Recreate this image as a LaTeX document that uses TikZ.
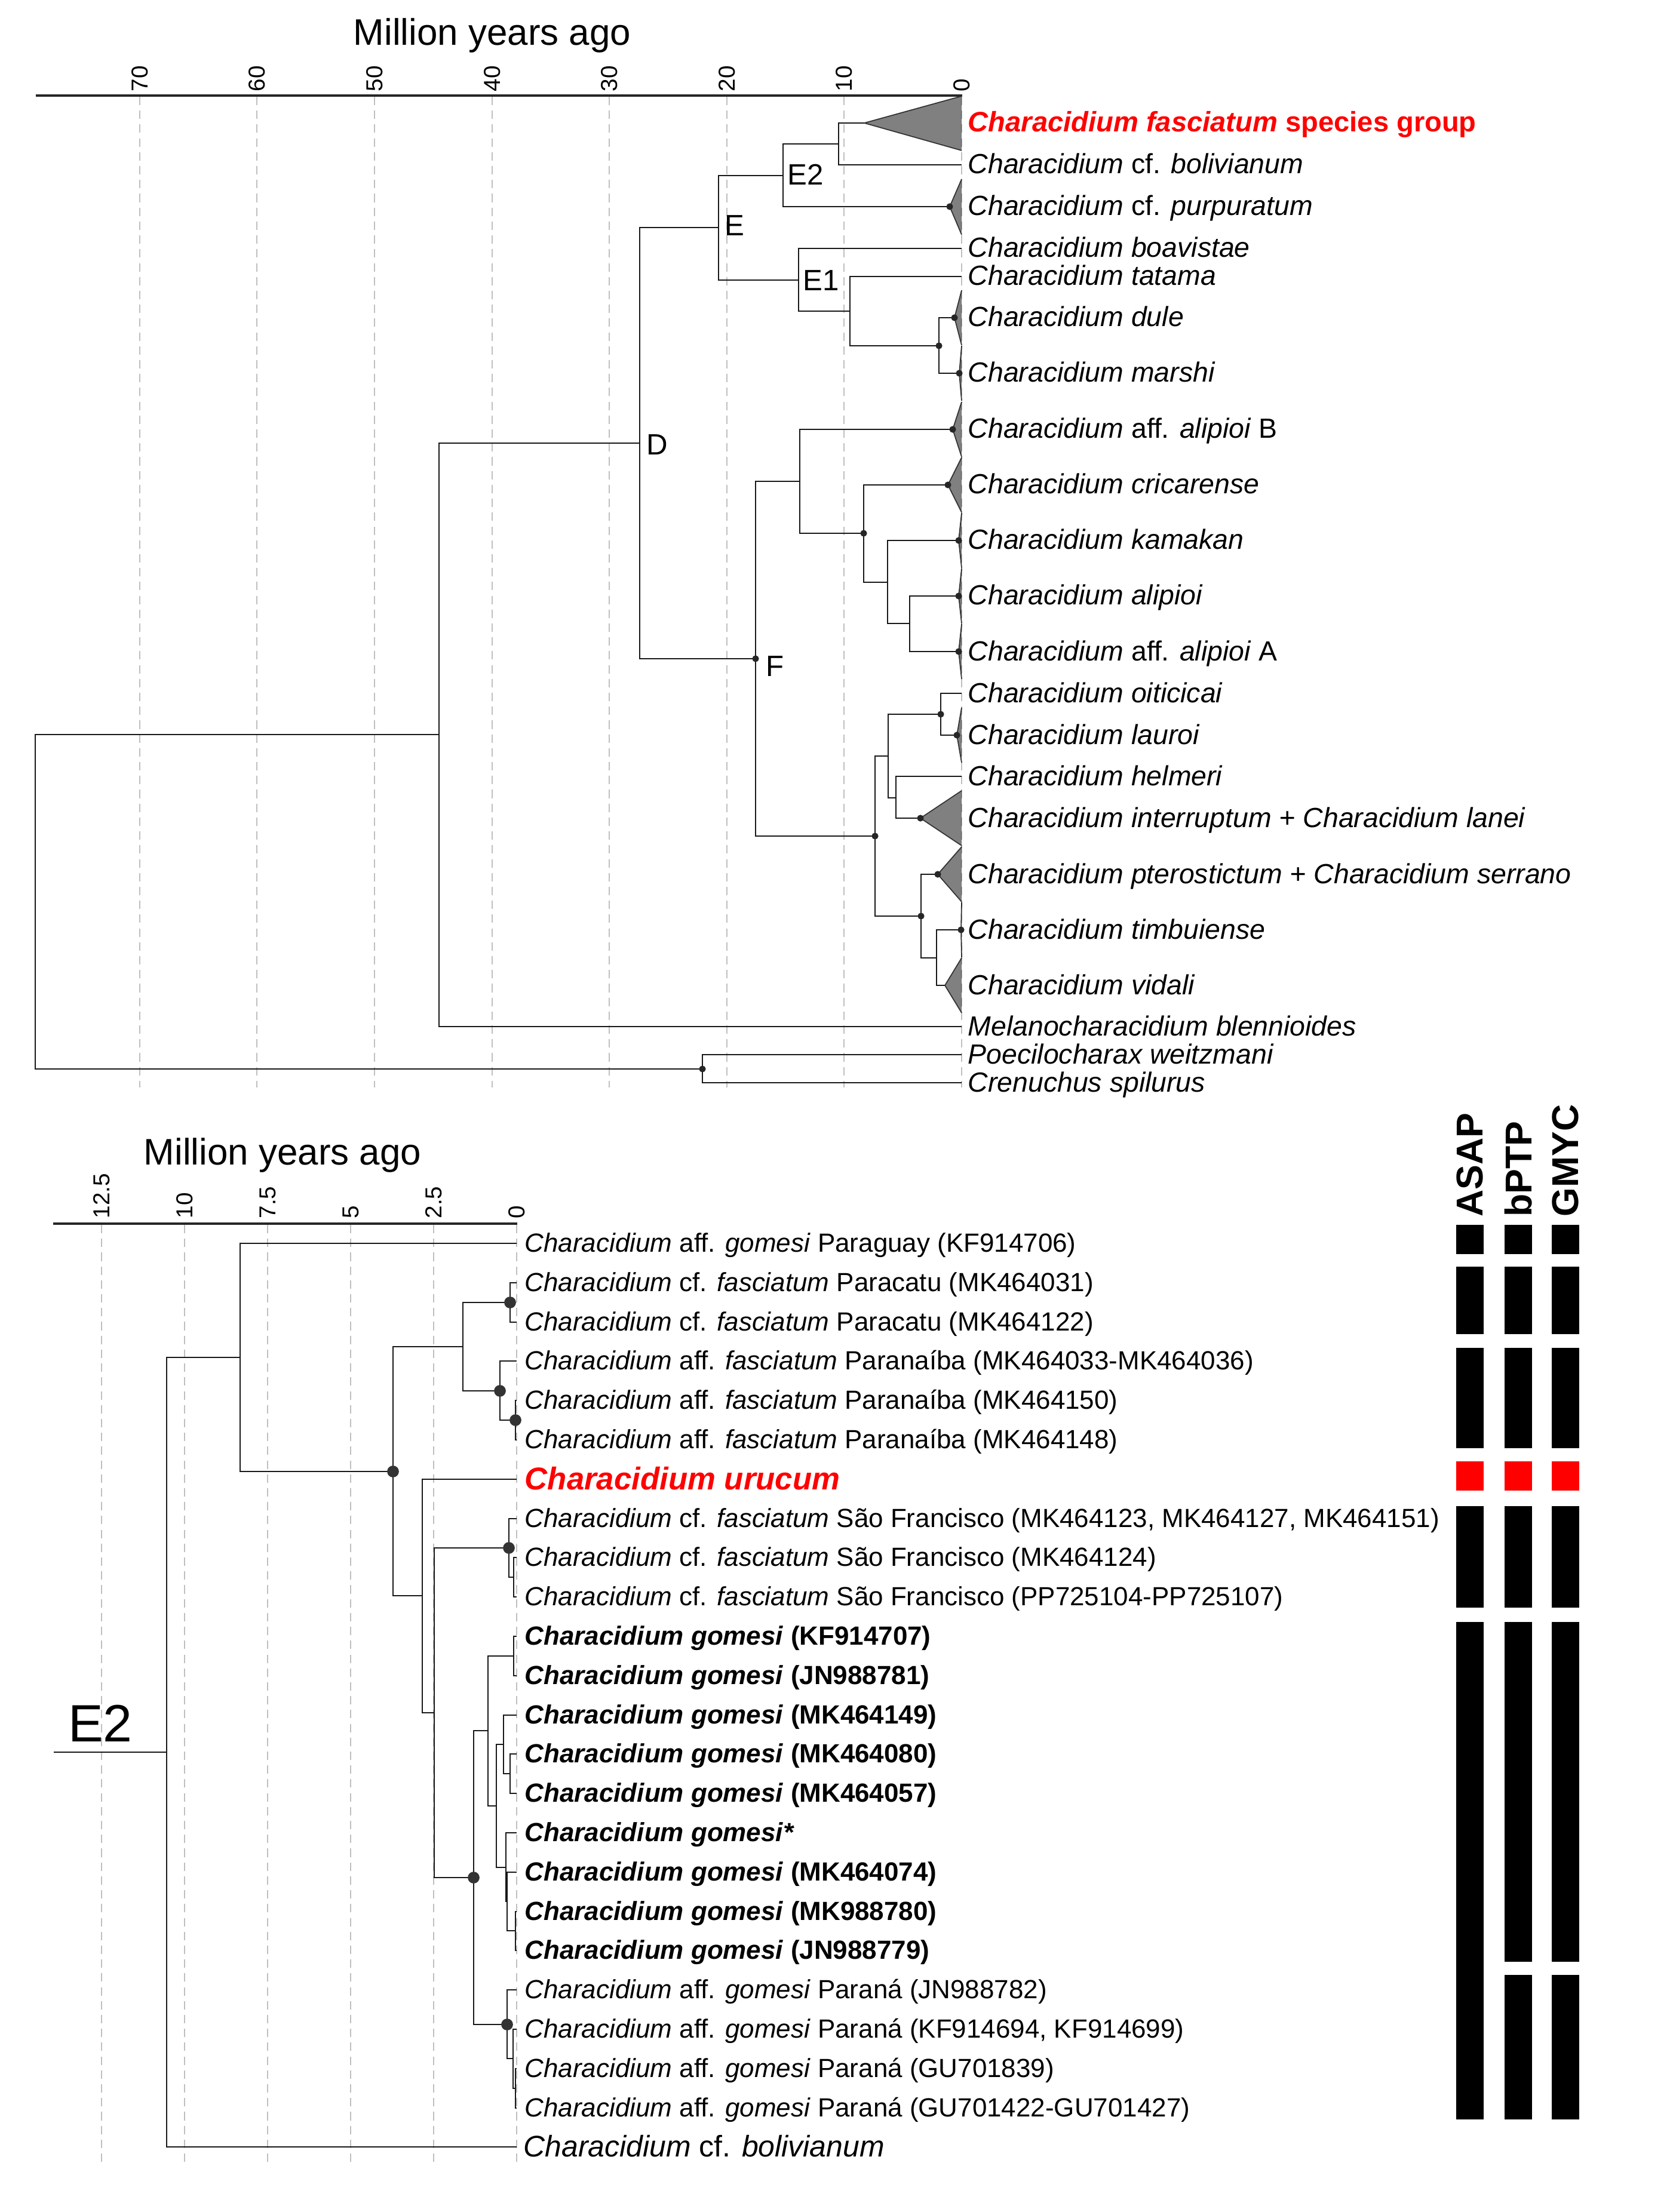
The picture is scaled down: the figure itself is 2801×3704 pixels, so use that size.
\documentclass[tikz,border=0pt]{standalone}
\usepackage{fontspec}
\setmainfont{Liberation Sans}
\usetikzlibrary{calc}
\tikzset{%
  dot/.style={circle,inner sep=0pt,minimum size=3.2pt,fill=black!85},
  bigdot/.style={circle,inner sep=0pt,minimum size=5.6pt,fill=black!80},
  branch/.style={black!90,line width=0.6pt},
  bbranch/.style={black!90,line width=0.75pt},
  ageline/.style={black,opacity=0.25,line width=0.6pt,dash pattern=on 4pt off 2.6pt},
  axisline/.style={black!85,line width=0.9pt},
  clade/.style={fill=tri,draw=black!80,line width=0.5pt},
  tip/.style={anchor=base west,inner sep=0pt,font=\fontsize{13.2}{15}\selectfont},
  btip/.style={anchor=base west,inner sep=0pt,font=\fontsize{12.5}{15}\selectfont},
  cladename/.style={inner sep=0pt,font=\fontsize{14}{16}\selectfont},
  axistitle/.style={anchor=base,inner sep=0pt,font=\fontsize{17.6}{20}\selectfont},
  ticklabel/.style={rotate=90,anchor=west,inner sep=0pt,font=\fontsize{11}{13}\selectfont},
  method/.style={rotate=90,anchor=west,inner sep=0pt,font=\fontsize{17.8}{20}\selectfont\bfseries}
}
\definecolor{tri}{gray}{0.5}
\definecolor{hl}{rgb}{1,0,0}

\begin{document}
\begin{tikzpicture}[x=0.01cm,y=-0.01cm]
  \useasboundingbox (0,0) rectangle (2801,3704);
  \fill[white] (0,0) rectangle (2801,3704);
  %%% upper tree: axis
  \node[axistitle] (ttl1) at (824,76) {Million years ago};
  \draw[axisline] (60,160) -- (1611,160);
  \node[ticklabel] (k70) at (234,154) {70};
  \node[ticklabel] (k60) at (430,154) {60};
  \node[ticklabel] (k50) at (627,154) {50};
  \node[ticklabel] (k40) at (824,154) {40};
  \node[ticklabel] (k30) at (1020,154) {30};
  \node[ticklabel] (k20) at (1217,154) {20};
  \node[ticklabel] (k10) at (1413,154) {10};
  \node[ticklabel] (k0) at (1610,154) {0};
  % tips
  \coordinate (t2) at (1610,276);
  \coordinate (t4) at (1610,416);
  \coordinate (t5) at (1610,463);
  \coordinate (t13) at (1610,1161);
  \coordinate (t15) at (1610,1300);
  \coordinate (t20) at (1610,1719);
  \coordinate (t21) at (1610,1766);
  \coordinate (t22) at (1610,1813);
  % collapsed clades
  \coordinate (c1) at (1447,206);
  \coordinate (c3) at (1590,346);
  \coordinate (c6) at (1598,532);
  \coordinate (c7) at (1606,625);
  \coordinate (c8) at (1595,719);
  \coordinate (c9) at (1587,812);
  \coordinate (c10) at (1605,905);
  \coordinate (c11) at (1605,998);
  \coordinate (c12) at (1605,1091);
  \coordinate (c14) at (1602,1231);
  \coordinate (c16) at (1541,1370);
  \coordinate (c17) at (1570,1464);
  \coordinate (c18) at (1609,1557);
  \coordinate (c19) at (1582,1650);
  \filldraw[clade] (1610,161) -- (c1) -- (1610,252);
  \filldraw[clade] (1610,300) -- (c3) -- (1610,393);
  \filldraw[clade] (1610,486) -- (c6) -- (1610,578);
  \filldraw[clade] (1610,579) -- (c7) -- (1610,671);
  \filldraw[clade] (1610,673) -- (c8) -- (1610,765);
  \filldraw[clade] (1610,766) -- (c9) -- (1610,858);
  \filldraw[clade] (1610,859) -- (c10) -- (1610,951);
  \filldraw[clade] (1610,952) -- (c11) -- (1610,1044);
  \filldraw[clade] (1610,1045) -- (c12) -- (1610,1137);
  \filldraw[clade] (1610,1185) -- (c14) -- (1610,1277);
  \filldraw[clade] (1610,1324) -- (c16) -- (1610,1416);
  \filldraw[clade] (1610,1418) -- (c17) -- (1610,1510);
  \filldraw[clade] (1610,1511) -- (c18) -- (1610,1603);
  \filldraw[clade] (1610,1604) -- (c19) -- (1610,1696);
  \draw[ageline] (234,162) -- (234,1821);
  \draw[ageline] (430,162) -- (430,1821);
  \draw[ageline] (627,162) -- (627,1821);
  \draw[ageline] (824,162) -- (824,1821);
  \draw[ageline] (1020,162) -- (1020,1821);
  \draw[ageline] (1217,162) -- (1217,1821);
  \draw[ageline] (1413,162) -- (1413,1821);
  \draw[ageline] (1610,162) -- (1610,1821);
  % internal nodes
  \coordinate (r0) at (59,1510);
  \coordinate (nIn) at (735,1230);
  \coordinate (nOut) at (1176,1790);
  \coordinate (nD) at (1071,742);
  \coordinate (nE) at (1203,381);
  \coordinate (nE2) at (1311,294);
  \coordinate (n10) at (1404,241);
  \coordinate (nE1) at (1337,469);
  \coordinate (n11) at (1423,521);
  \coordinate (n12) at (1572,579);
  \coordinate (nF) at (1265,1103);
  \coordinate (nF1) at (1339,806);
  \coordinate (n20) at (1446,893);
  \coordinate (n21) at (1486,975);
  \coordinate (n22) at (1523,1044);
  \coordinate (nF2) at (1465,1400);
  \coordinate (n30) at (1487,1266);
  \coordinate (n31) at (1575,1196);
  \coordinate (n32) at (1500,1336);
  \coordinate (n40) at (1542,1534);
  \coordinate (n41) at (1568,1604);
  \draw[branch] (r0) |- (nIn) (r0) |- (nOut);
  \draw[branch] (nIn) |- (nD) (nIn) |- (t20);
  \draw[branch] (nOut) |- (t21) (nOut) |- (t22);
  \draw[branch] (nD) |- (nE) (nD) |- (nF);
  \draw[branch] (nE) |- (nE2) (nE) |- (nE1);
  \draw[branch] (nE2) |- (n10) (nE2) |- (c3);
  \draw[branch] (n10) |- (c1) (n10) |- (t2);
  \draw[branch] (nE1) |- (t4) (nE1) |- (n11);
  \draw[branch] (n11) |- (t5) (n11) |- (n12);
  \draw[branch] (n12) |- (c6) (n12) |- (c7);
  \draw[branch] (nF) |- (nF1) (nF) |- (nF2);
  \draw[branch] (nF1) |- (c8) (nF1) |- (n20);
  \draw[branch] (n20) |- (c9) (n20) |- (n21);
  \draw[branch] (n21) |- (c10) (n21) |- (n22);
  \draw[branch] (n22) |- (c11) (n22) |- (c12);
  \draw[branch] (nF2) |- (n30) (nF2) |- (n40);
  \draw[branch] (n30) |- (n31) (n30) |- (n32);
  \draw[branch] (n31) |- (t13) (n31) |- (c14);
  \draw[branch] (n32) |- (t15) (n32) |- (c16);
  \draw[branch] (n40) |- (c17) (n40) |- (n41);
  \draw[branch] (n41) |- (c18) (n41) |- (c19);
  \node[dot] (d0) at (nOut) {};
  \node[dot] (d1) at (c3) {};
  \node[dot] (d2) at (n12) {};
  \node[dot] (d3) at (c6) {};
  \node[dot] (d4) at (c7) {};
  \node[dot] (d5) at (nF) {};
  \node[dot] (d6) at (c8) {};
  \node[dot] (d7) at (n20) {};
  \node[dot] (d8) at (c9) {};
  \node[dot] (d9) at (c10) {};
  \node[dot] (d10) at (c11) {};
  \node[dot] (d11) at (c12) {};
  \node[dot] (d12) at (nF2) {};
  \node[dot] (d13) at (n31) {};
  \node[dot] (d14) at (c14) {};
  \node[dot] (d15) at (c16) {};
  \node[dot] (d16) at (n40) {};
  \node[dot] (d17) at (c17) {};
  \node[dot] (d18) at (c18) {};
  \node[cladename] (lE2) at (1349,292) {E2};
  \node[cladename] (lE) at (1230,378) {E};
  \node[cladename] (lE1) at (1375,470) {E1};
  \node[cladename] (lD) at (1100,745) {D};
  \node[cladename] (lF) at (1298,1116) {F};
  % tip labels
  \node[tip,text=hl,font=\fontsize{13.4}{15}\selectfont\bfseries] (l1) at (1620,221) {\textit{Characidium fasciatum} species group};
  \node[tip] (l2) at (1620,291) {\textit{Characidium} cf. \textit{bolivianum}};
  \node[tip] (l3) at (1620,361) {\textit{Characidium} cf. \textit{purpuratum}};
  \node[tip] (l4) at (1620,431) {\textit{Characidium boavistae}};
  \node[tip] (l5) at (1620,478) {\textit{Characidium tatama}};
  \node[tip] (l6) at (1620,547) {\textit{Characidium dule}};
  \node[tip] (l7) at (1620,640) {\textit{Characidium marshi}};
  \node[tip] (l8) at (1620,734) {\textit{Characidium} aff. \textit{alipioi} B};
  \node[tip] (l9) at (1620,827) {\textit{Characidium cricarense}};
  \node[tip] (l10) at (1620,920) {\textit{Characidium kamakan}};
  \node[tip] (l11) at (1620,1013) {\textit{Characidium alipioi}};
  \node[tip] (l12) at (1620,1106) {\textit{Characidium} aff. \textit{alipioi} A};
  \node[tip] (l13) at (1620,1176) {\textit{Characidium oiticicai}};
  \node[tip] (l14) at (1620,1246) {\textit{Characidium lauroi}};
  \node[tip] (l15) at (1620,1315) {\textit{Characidium helmeri}};
  \node[tip] (l16) at (1620,1385) {\textit{Characidium interruptum + Characidium lanei}};
  \node[tip] (l17) at (1620,1479) {\textit{Characidium pterostictum + Characidium serrano}};
  \node[tip] (l18) at (1620,1572) {\textit{Characidium timbuiense}};
  \node[tip] (l19) at (1620,1665) {\textit{Characidium vidali}};
  \node[tip] (l20) at (1620,1734) {\textit{Melanocharacidium blennioides}};
  \node[tip] (l21) at (1620,1781) {\textit{Poecilocharax weitzmani}};
  \node[tip] (l22) at (1620,1828) {\textit{Crenuchus spilurus}};
  %%% lower tree: E2 in detail
  \node[axistitle] (ttl2) at (473,1950) {Million years ago};
  \draw[axisline] (89,2049) -- (866,2049);
  \node[ticklabel] (m125) at (170,2041) {12.5};
  \node[ticklabel] (m100) at (309,2041) {10};
  \node[ticklabel] (m75) at (448,2041) {7.5};
  \node[ticklabel] (m50) at (587,2041) {5};
  \node[ticklabel] (m25) at (726,2041) {2.5};
  \node[ticklabel] (m0) at (865,2041) {0};
  \draw[ageline] (170,2051) -- (170,3628);
  \draw[ageline] (309,2051) -- (309,3628);
  \draw[ageline] (448,2051) -- (448,3628);
  \draw[ageline] (587,2051) -- (587,3628);
  \draw[ageline] (726,2051) -- (726,3628);
  \draw[ageline] (865,2051) -- (865,3628);
  % tips
  \coordinate (b1) at (865,2082);
  \coordinate (b2) at (865,2148);
  \coordinate (b3) at (865,2214);
  \coordinate (b4) at (865,2279);
  \coordinate (b5) at (865,2345);
  \coordinate (b6) at (865,2411);
  \coordinate (b7) at (865,2477);
  \coordinate (b8) at (865,2543);
  \coordinate (b9) at (865,2608);
  \coordinate (b10) at (865,2674);
  \coordinate (b11) at (865,2740);
  \coordinate (b12) at (865,2806);
  \coordinate (b13) at (865,2872);
  \coordinate (b14) at (865,2937);
  \coordinate (b15) at (865,3003);
  \coordinate (b16) at (865,3069);
  \coordinate (b17) at (865,3135);
  \coordinate (b18) at (865,3201);
  \coordinate (b19) at (865,3266);
  \coordinate (b20) at (865,3332);
  \coordinate (b21) at (865,3398);
  \coordinate (b22) at (865,3464);
  \coordinate (b23) at (865,3530);
  \coordinate (b24) at (865,3595);
  % internal nodes
  \coordinate (stem) at (90,2934);
  \coordinate (mE2) at (279,2934);
  \coordinate (mA) at (402,2273);
  \coordinate (mB) at (658,2464);
  \coordinate (mC) at (775,2255);
  \coordinate (m1) at (854,2181);
  \coordinate (m2) at (837,2329);
  \coordinate (m3) at (863,2378);
  \coordinate (mD) at (707,2672);
  \coordinate (mE) at (727,2868);
  \coordinate (m4) at (852,2592);
  \coordinate (m5) at (860,2641);
  \coordinate (mG) at (793,3144);
  \coordinate (mH) at (817,2898);
  \coordinate (m6) at (860,2773);
  \coordinate (mI) at (831,3024);
  \coordinate (mJ) at (843,2921);
  \coordinate (m7) at (854,2970);
  \coordinate (mK) at (847,3127);
  \coordinate (mL) at (849,3184);
  \coordinate (m8) at (863,3233);
  \coordinate (mM) at (849,3390);
  \coordinate (mN) at (859,3447);
  \coordinate (m9) at (863,3497);
  \draw[bbranch] (stem) -- (mE2);
  \draw[bbranch] (mE2) |- (mA) (mE2) |- (b24);
  \draw[bbranch] (mA) |- (b1) (mA) |- (mB);
  \draw[bbranch] (mB) |- (mC) (mB) |- (mD);
  \draw[bbranch] (mC) |- (m1) (mC) |- (m2);
  \draw[bbranch] (m1) |- (b2) (m1) |- (b3);
  \draw[bbranch] (m2) |- (b4) (m2) |- (m3);
  \draw[bbranch] (m3) |- (b5) (m3) |- (b6);
  \draw[bbranch] (mD) |- (b7) (mD) |- (mE);
  \draw[bbranch] (mE) |- (m4) (mE) |- (mG);
  \draw[bbranch] (m4) |- (b8) (m4) |- (m5);
  \draw[bbranch] (m5) |- (b9) (m5) |- (b10);
  \draw[bbranch] (mG) |- (mH) (mG) |- (mM);
  \draw[bbranch] (mH) |- (m6) (mH) |- (mI);
  \draw[bbranch] (m6) |- (b11) (m6) |- (b12);
  \draw[bbranch] (mI) |- (mJ) (mI) |- (mK);
  \draw[bbranch] (mJ) |- (b13) (mJ) |- (m7);
  \draw[bbranch] (m7) |- (b14) (m7) |- (b15);
  \draw[bbranch] (mK) |- (b16) (mK) |- (mL);
  \draw[bbranch] (mL) |- (b17) (mL) |- (m8);
  \draw[bbranch] (m8) |- (b18) (m8) |- (b19);
  \draw[bbranch] (mM) |- (b20) (mM) |- (mN);
  \draw[bbranch] (mN) |- (b21) (mN) |- (m9);
  \draw[bbranch] (m9) |- (b22) (m9) |- (b23);
  \node[bigdot] (e1) at (mB) {};
  \node[bigdot] (e2) at (m1) {};
  \node[bigdot] (e3) at (m2) {};
  \node[bigdot] (e4) at (m3) {};
  \node[bigdot] (e5) at (m4) {};
  \node[bigdot] (e6) at (mG) {};
  \node[bigdot] (e7) at (mM) {};
  \node[cladename,font=\fontsize{25}{28}\selectfont] (lE2b) at (168,2886) {E2};
  % tip labels
  \node[btip] (g1) at (878,2096) {\textit{Characidium} aff. \textit{gomesi} Paraguay (KF914706)};
  \node[btip] (g2) at (878,2162) {\textit{Characidium} cf. \textit{fasciatum} Paracatu (MK464031)};
  \node[btip] (g3) at (878,2228) {\textit{Characidium} cf. \textit{fasciatum} Paracatu (MK464122)};
  \node[btip] (g4) at (878,2293) {\textit{Characidium} aff. \textit{fasciatum} Paranaíba (MK464033-MK464036)};
  \node[btip] (g5) at (878,2359) {\textit{Characidium} aff. \textit{fasciatum} Paranaíba (MK464150)};
  \node[btip] (g6) at (878,2425) {\textit{Characidium} aff. \textit{fasciatum} Paranaíba (MK464148)};
  \node[btip,text=hl,font=\fontsize{15}{17}\selectfont\bfseries\itshape] (g7) at (878,2494) {Characidium urucum};
  \node[btip] (g8) at (878,2557) {\textit{Characidium} cf. \textit{fasciatum} São Francisco (MK464123, MK464127, MK464151)};
  \node[btip] (g9) at (878,2622) {\textit{Characidium} cf. \textit{fasciatum} São Francisco (MK464124)};
  \node[btip] (g10) at (878,2688) {\textit{Characidium} cf. \textit{fasciatum} São Francisco (PP725104-PP725107)};
  \node[btip,font=\fontsize{12.5}{15}\selectfont\bfseries] (g11) at (878,2754) {\textit{Characidium gomesi} (KF914707)};
  \node[btip,font=\fontsize{12.5}{15}\selectfont\bfseries] (g12) at (878,2820) {\textit{Characidium gomesi} (JN988781)};
  \node[btip,font=\fontsize{12.5}{15}\selectfont\bfseries] (g13) at (878,2886) {\textit{Characidium gomesi} (MK464149)};
  \node[btip,font=\fontsize{12.5}{15}\selectfont\bfseries] (g14) at (878,2951) {\textit{Characidium gomesi} (MK464080)};
  \node[btip,font=\fontsize{12.5}{15}\selectfont\bfseries] (g15) at (878,3017) {\textit{Characidium gomesi} (MK464057)};
  \node[btip,font=\fontsize{12.5}{15}\selectfont\bfseries] (g16) at (878,3083) {\textit{Characidium gomesi*}};
  \node[btip,font=\fontsize{12.5}{15}\selectfont\bfseries] (g17) at (878,3149) {\textit{Characidium gomesi} (MK464074)};
  \node[btip,font=\fontsize{12.5}{15}\selectfont\bfseries] (g18) at (878,3215) {\textit{Characidium gomesi} (MK988780)};
  \node[btip,font=\fontsize{12.5}{15}\selectfont\bfseries] (g19) at (878,3280) {\textit{Characidium gomesi} (JN988779)};
  \node[btip] (g20) at (878,3346) {\textit{Characidium} aff. \textit{gomesi} Paraná (JN988782)};
  \node[btip] (g21) at (878,3412) {\textit{Characidium} aff. \textit{gomesi} Paraná (KF914694, KF914699)};
  \node[btip] (g22) at (878,3478) {\textit{Characidium} aff. \textit{gomesi} Paraná (GU701839)};
  \node[btip] (g23) at (878,3544) {\textit{Characidium} aff. \textit{gomesi} Paraná (GU701422-GU701427)};
  \node[btip,font=\fontsize{14.2}{17}\selectfont] (g24) at (876,3611) {\textit{Characidium} cf. \textit{bolivianum}};
  %%% species delimitation
  \node[method] (asap) at (2461,2038) {ASAP};
  \node[method] (bptp) at (2542,2038) {bPTP};
  \node[method] (gmyc) at (2621,2038) {GMYC};
  \fill (2438,2051) rectangle (2484,2100);
  \fill (2519,2051) rectangle (2565,2100);
  \fill (2598,2051) rectangle (2644,2100);
  \fill (2438,2121) rectangle (2484,2234);
  \fill (2519,2121) rectangle (2565,2234);
  \fill (2598,2121) rectangle (2644,2234);
  \fill (2438,2257) rectangle (2484,2425);
  \fill (2519,2257) rectangle (2565,2425);
  \fill (2598,2257) rectangle (2644,2425);
  \fill[hl] (2438,2447) rectangle (2484,2496);
  \fill[hl] (2519,2447) rectangle (2565,2496);
  \fill[hl] (2598,2447) rectangle (2644,2496);
  \fill (2438,2522) rectangle (2484,2692);
  \fill (2519,2522) rectangle (2565,2692);
  \fill (2598,2522) rectangle (2644,2692);
  \fill (2438,2716) rectangle (2484,3549);
  \fill (2519,2716) rectangle (2565,3285);
  \fill (2598,2716) rectangle (2644,3285);
  \fill (2519,3307) rectangle (2565,3549);
  \fill (2598,3307) rectangle (2644,3549);
\end{tikzpicture}
\end{document}
